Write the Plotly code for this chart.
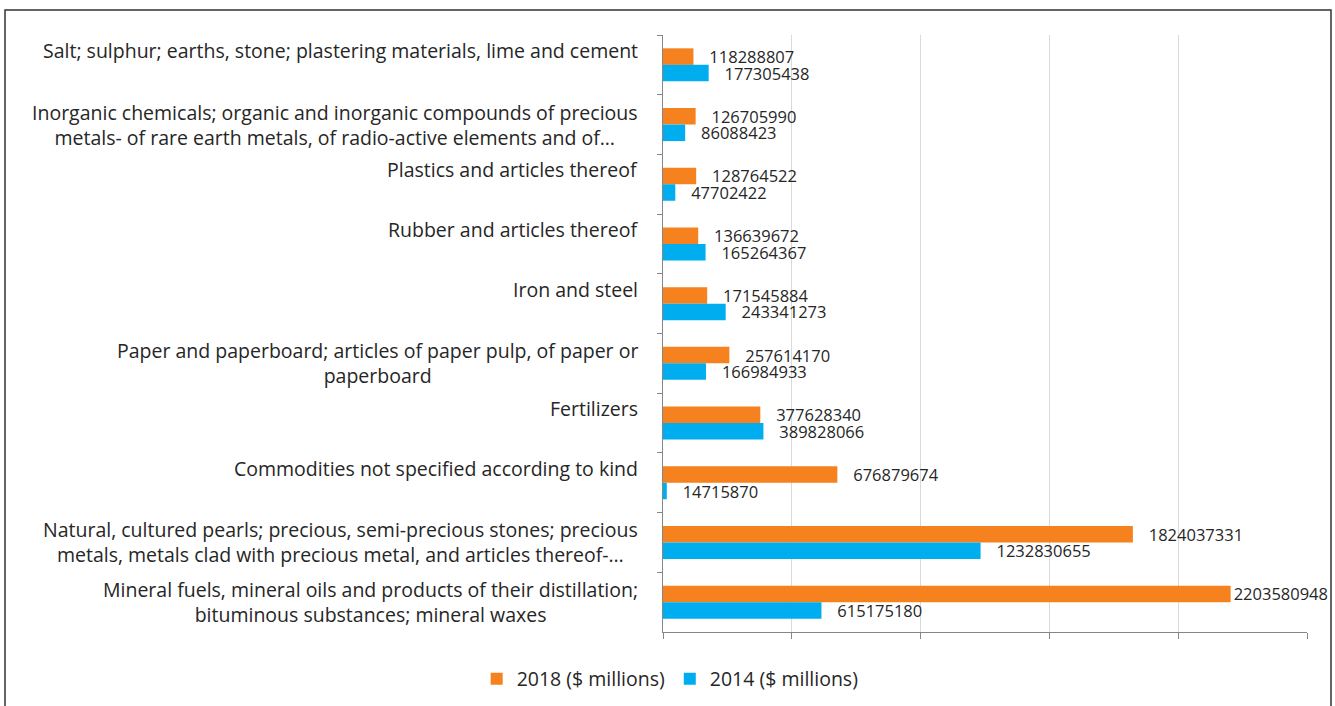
import plotly.graph_objects as go

categories = [
    "Salt; sulphur; earths, stone; plastering materials, lime and cement",
    "Inorganic chemicals; organic and inorganic compounds of precious<br>metals- of rare earth metals, of radio-active elements and of…",
    "Plastics and articles thereof",
    "Rubber and articles thereof",
    "Iron and steel",
    "Paper and paperboard; articles of paper pulp, of paper or<br>paperboard",
    "Fertilizers",
    "Commodities not specified according to kind",
    "Natural, cultured pearls; precious, semi-precious stones; precious<br>metals, metals clad with precious metal, and articles thereof-…",
    "Mineral fuels, mineral oils and products of their distillation;<br>bituminous substances; mineral waxes",
]
values_2018 = [118288807, 126705990, 128764522, 136639672, 171545884,
               257614170, 377628340, 676879674, 1824037331, 2203580948]
values_2014 = [177305438, 86088423, 47702422, 165264367, 243341273,
               166984933, 389828066, 14715870, 1232830655, 615175180]
series_names = ["2018 ($ millions)", "2014 ($ millions)"]

W, H = 1335, 706
ML, MR, MT, MB = 663, 28, 35, 74
PW, PH = W - ML - MR, H - MT - MB
XMAX = 2.5e9

FONT = "Open Sans"
TXT = "#262626"
colors = ["#F5821F", "#00AEEF"]
NB = "\u00a0"

def label_texts(vals):
    out = []
    for v in vals:
        pad = "" if v / XMAX > 0.85 else NB * 3
        out.append(pad + str(v))
    return out

fig = go.Figure()
for name, vals, col in zip(series_names, [values_2018, values_2014], colors):
    fig.add_trace(go.Bar(
        y=categories, x=vals, orientation="h", name=name,
        marker=dict(color=col, line=dict(width=0)),
        text=label_texts(vals), textposition="outside", constraintext="none",
        cliponaxis=False, textfont=dict(family=FONT, size=16.5, color=TXT),
        hoverinfo="x+name",
    ))

# category labels: lines centred on each other, block right-aligned
LABEL_FS = 19.5
annotations = []
for cat in categories:
    n_lines = len(cat.split("<br>"))
    annotations.append(dict(
        xref="paper", yref="y", x=0, y=cat, xanchor="right", yanchor="middle",
        xshift=-23, yshift=14.5 if n_lines == 1 else 0, align="center",
        showarrow=False, text=cat,
        font=dict(family=FONT, size=LABEL_FS, color=TXT)))

fig.update_layout(
    width=W, height=H,
    margin=dict(l=ML, r=MR, t=MT, b=MB),
    paper_bgcolor="white", plot_bgcolor="white",
    barmode="group", bargap=0.447, bargroupgap=0,
    font=dict(family=FONT, color=TXT),
    showlegend=True,
    legend=dict(orientation="h", xref="container", yref="container",
                x=0.502, xanchor="center", y=0.038, yanchor="middle",
                font=dict(family=FONT, size=19.5, color=TXT),
                traceorder="normal"),
    annotations=annotations,
    shapes=[dict(type="rect", xref="paper", yref="paper",
                 x0=(5 - ML) / PW, x1=(1331 - ML) / PW,
                 y0=-0.3, y1=(H - MB - 10) / PH,
                 line=dict(color="#333333", width=1.5))],
)
fig.update_xaxes(range=[0, XMAX], dtick=5e8, tick0=0, showgrid=True,
                 gridcolor="#D9D9D9", gridwidth=1, zeroline=False,
                 showticklabels=False, ticks="outside", ticklen=6,
                 tickcolor="#868686", showline=True, linecolor="#868686",
                 linewidth=1)
fig.update_yaxes(type="category", autorange="reversed", showticklabels=False,
                 ticks="outside", tickson="boundaries", ticklen=5,
                 tickcolor="#868686", showline=True, linecolor="#868686",
                 linewidth=1, showgrid=False, zeroline=False)

fig.write_html("out.html")
